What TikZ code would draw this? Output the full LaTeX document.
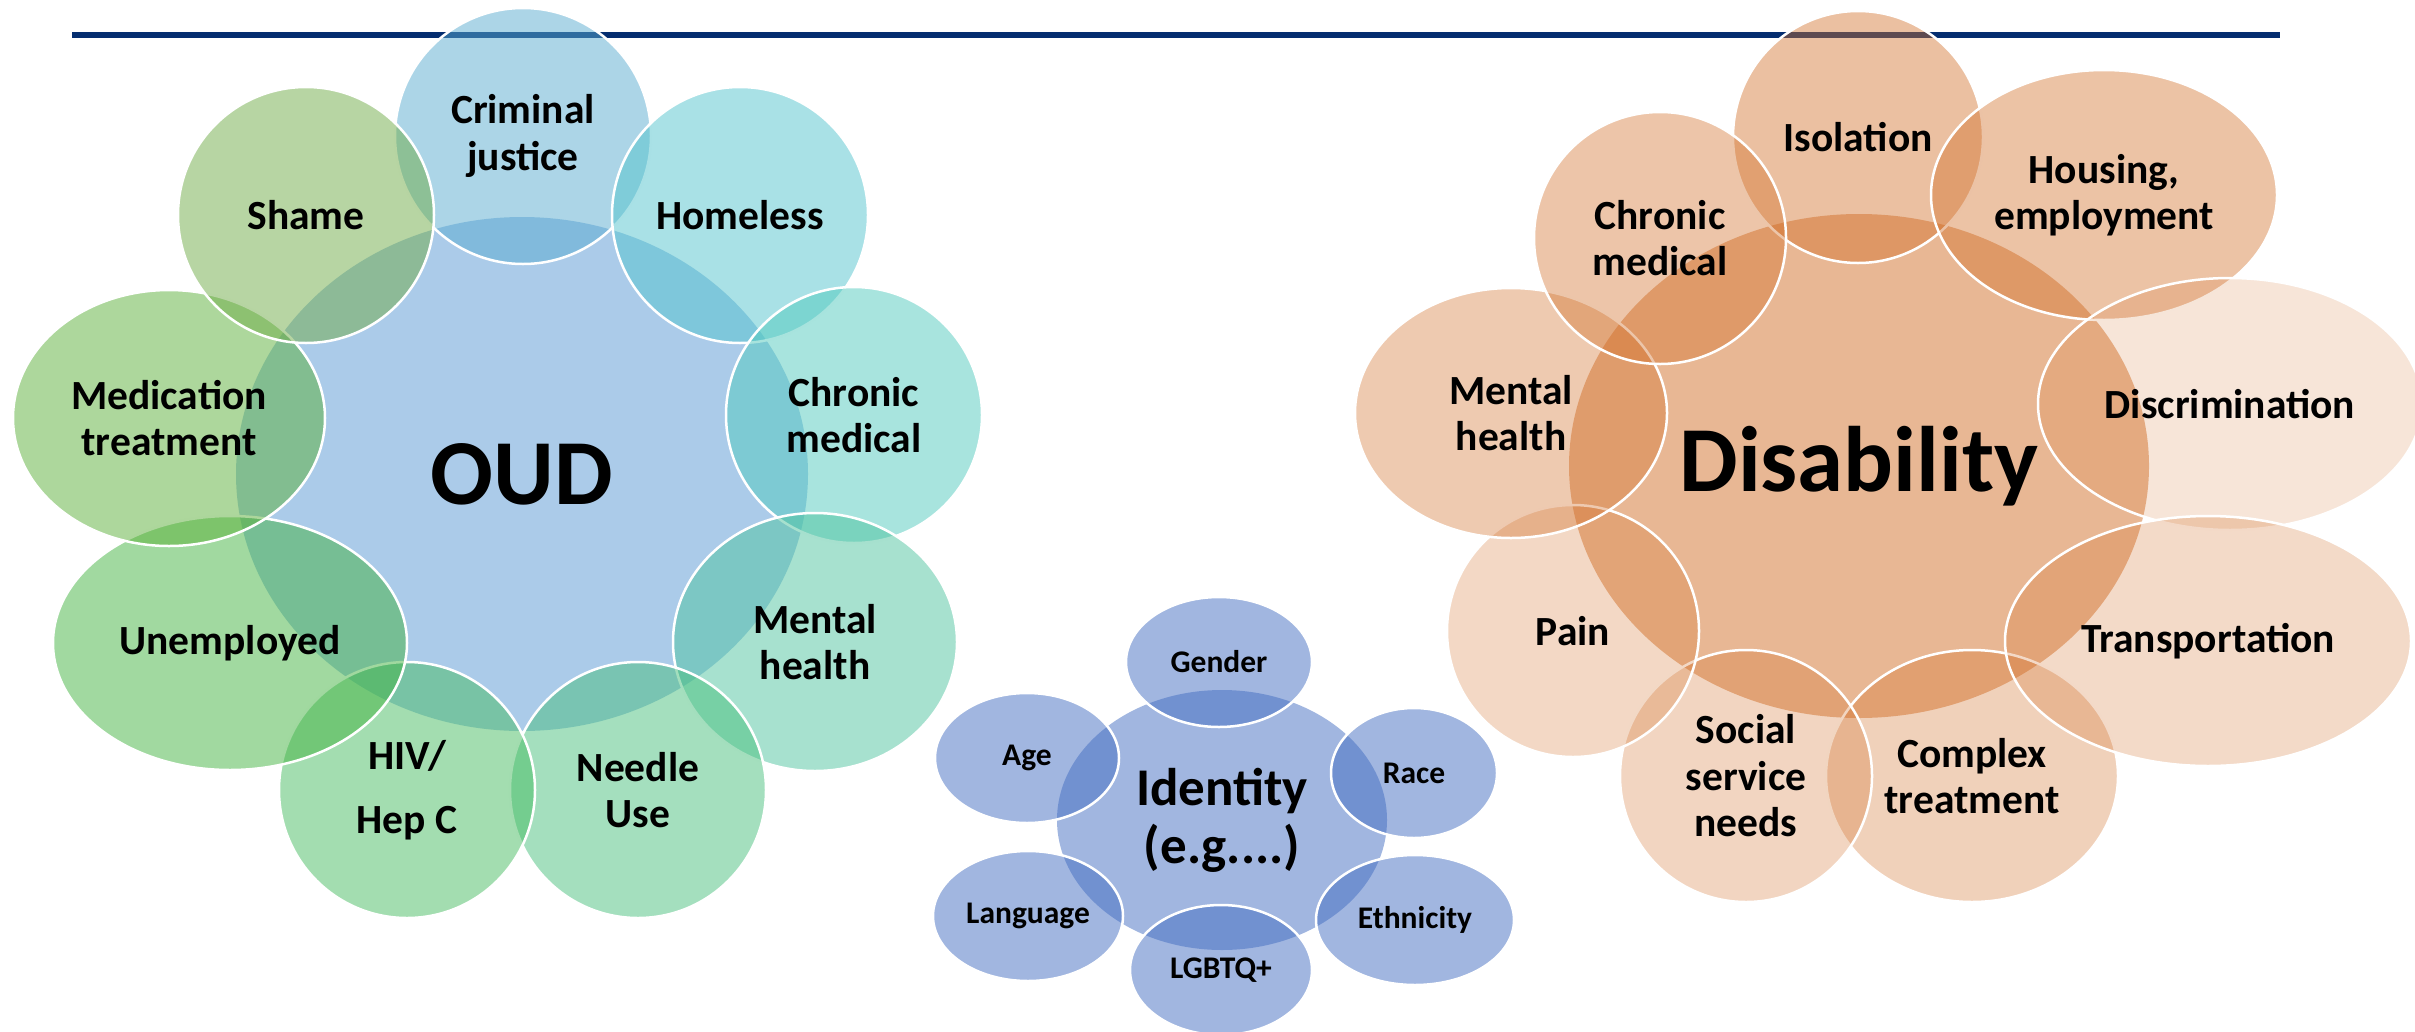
\documentclass[tikz,border=0pt]{standalone}
\usepackage{fontspec}
\setmainfont{Carlito}
\usetikzlibrary{shapes.geometric}
\definecolor{navy}{RGB}{5,46,112}
\definecolor{cOUD}{RGB}{87,151,211}
\definecolor{cCJ}{RGB}{89,171,207}
\definecolor{cShame}{RGB}{111,171,71}
\definecolor{cHome}{RGB}{83,195,205}
\definecolor{cChron}{RGB}{81,201,189}
\definecolor{cMent}{RGB}{79,195,159}
\definecolor{cNeedle}{RGB}{73,191,125}
\definecolor{cHIV}{RGB}{71,187,97}
\definecolor{cUnemp}{RGB}{67,179,65}
\definecolor{cMed}{RGB}{91,175,57}
\definecolor{cOrange}{RGB}{209,111,41}
\definecolor{cIdent}{RGB}{67,109,193}
\begin{document}
\begin{tikzpicture}[x=1pt,y=-1pt,
  hub/.style={ellipse, inner sep=0pt, outer sep=0pt, fill opacity=0.5, text opacity=1, align=center, text=black},
  blob/.style={ellipse, inner sep=0pt, outer sep=0pt, draw=white, line width=2.5pt, fill opacity=0.5, text opacity=1, align=center, text=black, font=\bfseries\fontsize{41.5}{46.5}\selectfont},
  small/.style={blob, fill=cIdent, minimum height=130pt, font=\bfseries\fontsize{31.5}{35}\selectfont},
  orb/.style={blob, fill=cOrange, fill opacity=#1}
]
\useasboundingbox (0,0) rectangle (2415,1031);
\coordinate (l1) at (72,35);
\coordinate (l2) at (2280,35);
\draw[navy, line width=5.3pt] (l1) -- (l2);

% OUD cluster
\node[hub, fill=cOUD, minimum width=572pt, minimum height=514pt, font=\bfseries\fontsize{93}{100}\selectfont] (oud) at (522,474) {OUD};
\node[blob, fill=cCJ, minimum width=256pt, minimum height=256pt] (cj) at (523,136) {Criminal\\justice};
\node[blob, fill=cHome, minimum width=256pt, minimum height=256pt] (home) at (740,215) {Homeless};
\node[blob, fill=cChron, minimum width=256pt, minimum height=256pt] (chron) at (854,415) {Chronic\\medical};
\node[blob, fill=cMent, minimum width=284pt, minimum height=258pt] (ment) at (815,642) {Mental\\health};
\node[blob, fill=cNeedle, minimum width=256pt, minimum height=256pt] (needle) at (638,790) {Needle\\Use};
\node[blob, fill=cHIV, minimum width=256pt, minimum height=256pt] (hiv) at (407,790) {HIV/\\[17pt]Hep C};
\node[blob, fill=cUnemp, minimum width=354pt, minimum height=254pt] (unemp) at (230,643) {Unemployed};
\node[blob, fill=cMed, minimum width=312pt, minimum height=256pt] (med) at (169,418) {Medication\\treatment};
\node[blob, fill=cShame, minimum width=256pt, minimum height=256pt] (shame) at (306,215) {Shame};

% Disability cluster
\node[hub, fill=cOrange, minimum width=580pt, minimum height=504pt, font=\bfseries\fontsize{93}{100}\selectfont] (dis) at (1859,466) {Disability};
\node[orb=0.44, minimum width=250pt, minimum height=252pt] (iso) at (1858,137) {Isolation};
\node[orb=0.42, minimum width=346pt, minimum height=250pt] (hous) at (2104,195) {Housing,\\employment};
\node[orb=0.18, minimum width=384pt, minimum height=252pt] (discr) at (2230,404) {Discrimination};
\node[orb=0.32, minimum width=292pt, minimum height=252pt] (compl) at (1972,776) {Complex\\treatment};
\node[orb=0.26, minimum width=406pt, minimum height=250pt] (trans) at (2208,641) {Transportation};
\node[orb=0.29, minimum width=252pt, minimum height=252pt] (soc) at (1746,776) {Social\\service\\needs};
\node[orb=0.27, minimum width=252pt, minimum height=252pt] (pain) at (1573,631) {Pain};
\node[orb=0.37, minimum width=312pt, minimum height=250pt] (mentd) at (1511,413) {Mental\\health};
\node[orb=0.40, minimum width=252pt, minimum height=252pt] (chrond) at (1660,238) {Chronic\\medical};

% Identity cluster
\node[hub, fill=cIdent, minimum width=330pt, minimum height=260pt, font=\bfseries\fontsize{53}{58}\selectfont] (iden) at (1222,820) {Identity\\(e.g....)};
\node[small, minimum width=186pt] (gender) at (1219,662) {Gender};
\node[small, minimum width=166pt] (race) at (1414,773) {Race};
\node[small, minimum width=198pt] (ethn) at (1415,920) {Ethnicity};
\node[small, minimum width=182pt] (lgbt) at (1221,970) {LGBTQ+};
\node[small, minimum width=190pt] (lang) at (1028,916) {Language};
\node[small, minimum width=184pt] (age) at (1027,758) {Age};
\end{tikzpicture}
\end{document}
